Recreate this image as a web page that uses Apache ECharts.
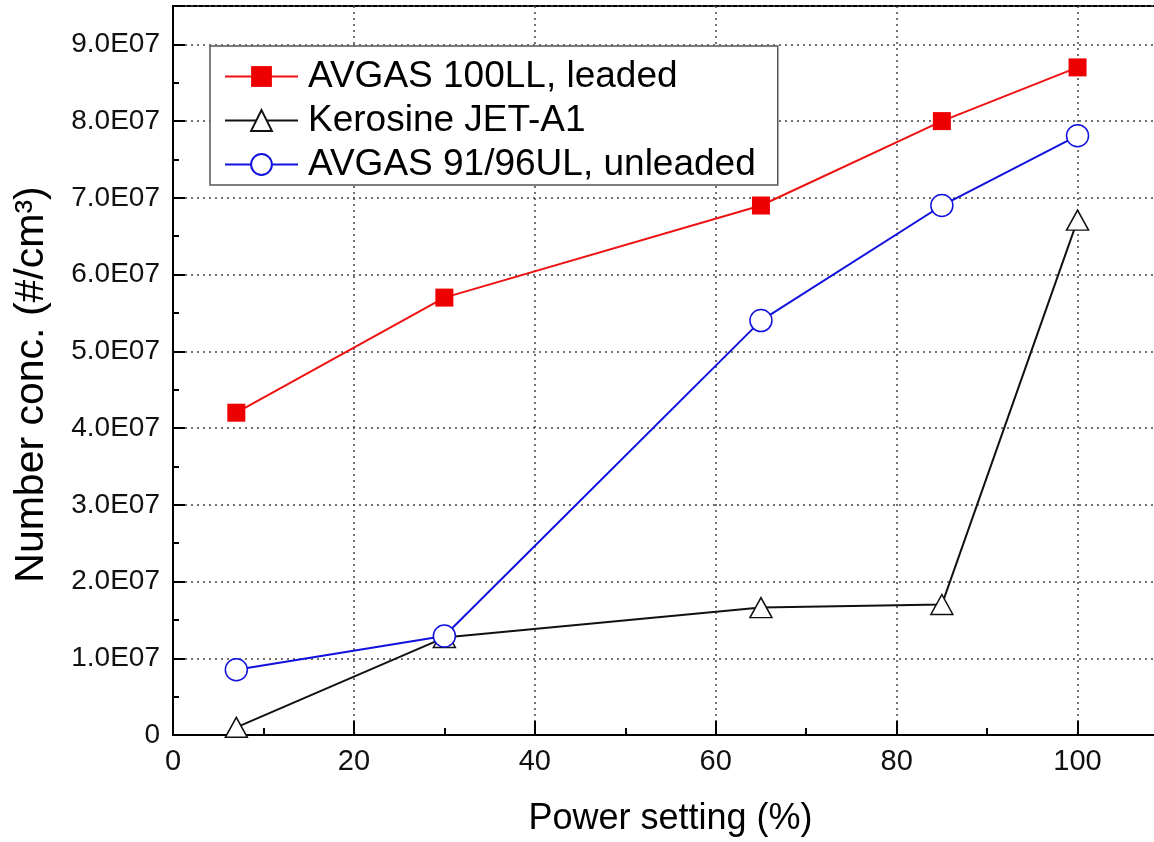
<!DOCTYPE html>
<html><head><meta charset="utf-8">
<script src="https://cdn.jsdelivr.net/npm/echarts@6/dist/echarts.min.js"></script>
<style>html,body{margin:0;padding:0;background:#fff}#c{width:1154px;height:842px}</style>
</head><body><div id="c"></div>
<script>
const power = [7, 30, 65, 85, 100];
const avgas100LL = [4.2e7, 5.7e7, 6.9e7, 8.0e7, 8.7e7];
const jetA1 = [0.1e7, 1.27e7, 1.66e7, 1.70e7, 6.71e7];
const avgas91UL = [0.85e7, 1.29e7, 5.40e7, 6.90e7, 7.81e7];
const seriesNames = ['AVGAS 100LL, leaded', 'Kerosine JET-A1', 'AVGAS 91/96UL, unleaded'];
const xTitle = 'Power setting (%)';
const yTitle = 'Number conc. (#/cm\u00B3)';

const pairs = ys => power.map((x, i) => [x, ys[i]]);
const chart = echarts.init(document.getElementById('c'));
const sans = '"Liberation Sans", Arial, sans-serif';
chart.setOption({
  animation: false,
  backgroundColor: '#fff',
  grid: { left: 173, top: 6, width: 995, height: 729, show: true, borderColor: '#000', borderWidth: 2,
          backgroundColor: 'transparent', containLabel: false, outerBoundsMode: 'none' },
  legend: {
    orient: 'vertical', left: 210, top: 46,
    itemWidth: 73, itemHeight: 26, itemGap: 3,
    padding: [10, 22, 0, 14],
    borderColor: '#555', borderWidth: 1.5, backgroundColor: '#fff',
    textStyle: { fontFamily: sans, fontSize: 37, lineHeight: 41, color: '#000', padding: [0, 0, 0, 5] },
    data: seriesNames
  },
  xAxis: {
    type: 'value', min: 0, max: 110, interval: 20,
    name: xTitle, nameLocation: 'middle', nameGap: 66,
    nameTextStyle: { fontFamily: sans, fontSize: 36, color: '#000' },
    axisLine: { lineStyle: { color: '#000', width: 2 } },
    axisTick: { inside: true, length: 14, lineStyle: { color: '#000', width: 2 } },
    minorTick: { show: true, splitNumber: 2, length: 7, lineStyle: { color: '#000', width: 2 } },
    axisLabel: { fontFamily: sans, fontSize: 29, color: '#111', margin: 12,
      formatter: v => (v % 20 === 0 && v <= 100) ? String(v) : '' },
    splitLine: { show: true, lineStyle: { color: '#444', width: 1.5, type: [2, 4] } }
  },
  yAxis: {
    type: 'value', min: 0, max: 9.5e7, interval: 1e7,
    name: yTitle, nameLocation: 'middle', nameGap: 121,
    nameTextStyle: { fontFamily: sans, fontSize: 41, color: '#000', padding: [0, 28, 0, 0] },
    axisLine: { lineStyle: { color: '#000', width: 2 } },
    axisTick: { inside: true, length: 12, lineStyle: { color: '#000', width: 2 } },
    minorTick: { show: true, splitNumber: 2, length: 6, lineStyle: { color: '#000', width: 2 } },
    axisLabel: { fontFamily: sans, fontSize: 28, color: '#111', margin: 13,
      formatter: v => { if (v === 0) return '0'; const m = v / 1e7; return (Math.abs(m - Math.round(m)) < 1e-9) ? m.toFixed(1) + 'E07' : ''; } },
    splitLine: { show: true, lineStyle: { color: '#444', width: 1.5, type: [2, 4] } }
  },
  series: [
    { name: seriesNames[0], type: 'line', data: pairs(avgas100LL), symbol: 'rect', symbolSize: 18,
      lineStyle: { color: '#ee1111', width: 2 }, itemStyle: { color: '#ee0000', borderWidth: 0 }, z: 3 },
    { name: seriesNames[1], type: 'line', data: pairs(jetA1), symbol: 'triangle', symbolSize: [22, 20],
      lineStyle: { color: '#111', width: 2 }, itemStyle: { color: '#fff', borderColor: '#111', borderWidth: 1.5 }, z: 4 },
    { name: seriesNames[2], type: 'line', data: pairs(avgas91UL), symbol: 'circle', symbolSize: 22,
      lineStyle: { color: '#1111dd', width: 2 }, itemStyle: { color: '#fff', borderColor: '#1111dd', borderWidth: 1.5 }, z: 5 }
  ]
});
</script></body></html>
